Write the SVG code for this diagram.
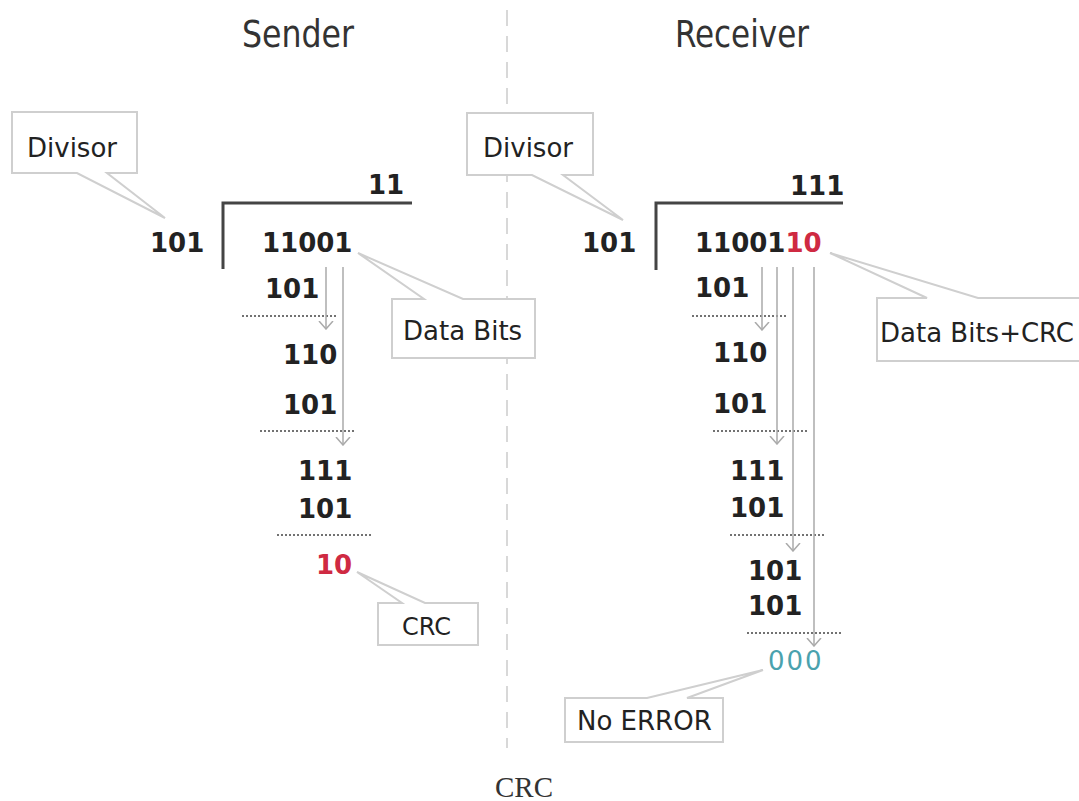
<svg xmlns="http://www.w3.org/2000/svg" width="1079" height="801" viewBox="0 0 1079 801">
<defs>
<style>
.title{font-family:"DejaVu Sans Condensed","DejaVu Sans",sans-serif;font-size:37px;fill:#333}
.num{font-family:"DejaVu Sans",Verdana,sans-serif;font-size:26px;font-weight:bold;fill:#222}
.red{fill:#cf2a42}
.teal{fill:#4aa2ae}
.lbl{font-family:"DejaVu Sans",Verdana,sans-serif;font-size:26px;fill:#222}
.box{fill:#fff;stroke:#cfcfcf;stroke-width:2}
.br{fill:none;stroke:#444;stroke-width:3}
.dot{stroke:#444;stroke-width:1.5;stroke-dasharray:2 2;fill:none}
.arr{stroke:#aaaaaa;stroke-width:1.5;fill:none;marker-end:url(#ah)}
.cap{font-family:"Liberation Serif","DejaVu Serif",serif;font-size:29px;fill:#333}
</style>
<marker id="ah" viewBox="0 0 9 16" refX="8" refY="8" markerWidth="9" markerHeight="16" markerUnits="userSpaceOnUse" orient="auto">
<path d="M0,1 L8,8 L0,15" fill="none" stroke="#aaaaaa" stroke-width="1.5"/>
</marker>
</defs>
<rect width="1079" height="801" fill="#fff"/>

<line x1="507" y1="10" x2="507" y2="748" stroke="#d8d8d8" stroke-width="2" stroke-dasharray="16 10"/>

<g id="title-sender"><text class="title" x="242" y="47" textLength="112" lengthAdjust="spacingAndGlyphs">Sender</text></g>
<g id="title-receiver"><text class="title" x="675" y="47" textLength="134" lengthAdjust="spacingAndGlyphs">Receiver</text></g>

<!-- Sender -->
<g id="s-divisor-callout">
<path class="box" d="M12,112 H137 V173 H107 L165,218 L77,173 H12 Z"/>
<text class="lbl" x="27" y="157">Divisor</text>
</g>
<g id="s-division">
<path class="br" d="M223,269 V203 H412"/>
<text class="num" x="368" y="194">11</text>
<text class="num" x="150" y="252">101</text>
<text class="num" x="262" y="252">11001</text>
<text class="num" x="265" y="298">101</text>
<line class="dot" x1="242" y1="316" x2="337" y2="316"/>
<text class="num" x="283" y="364">110</text>
<text class="num" x="283" y="414">101</text>
<line class="dot" x1="260" y1="431" x2="355" y2="431"/>
<text class="num" x="298" y="480">111</text>
<text class="num" x="298" y="518">101</text>
<line class="dot" x1="277" y1="535" x2="372" y2="535"/>
<text class="num red" x="316" y="574">10</text>
</g>
<g id="s-databits-callout">
<path class="box" d="M392,299 H424 L358,253 L463,299 H535 V358 H392 Z"/>
<text class="lbl" x="403" y="340">Data Bits</text>
</g>
<g id="s-crc-callout">
<path class="box" d="M378,603 H402 L357,572 L425,603 H478 V645 H378 Z"/>
<text class="lbl" x="402" y="635" style="font-size:24px">CRC</text>
</g>

<!-- Receiver -->
<g id="r-divisor-callout">
<path class="box" d="M467,113 H593 V175 H563 L623,220 L532,175 H467 Z"/>
<text class="lbl" x="483" y="157">Divisor</text>
</g>
<g id="r-division">
<path class="br" d="M656,270 V203 H843"/>
<text class="num" x="790" y="195">111</text>
<text class="num" x="582" y="252">101</text>
<text class="num" x="695" y="252">11001<tspan class="red">10</tspan></text>
<text class="num" x="695" y="297">101</text>
<line class="dot" x1="692" y1="316" x2="787" y2="316"/>
<text class="num" x="713" y="362">110</text>
<text class="num" x="713" y="413">101</text>
<line class="dot" x1="713" y1="431" x2="808" y2="431"/>
<text class="num" x="730" y="480">111</text>
<text class="num" x="730" y="517">101</text>
<line class="dot" x1="730" y1="535" x2="825" y2="535"/>
<text class="num" x="748" y="580">101</text>
<text class="num" x="748" y="615">101</text>
<line class="dot" x1="747" y1="633" x2="843" y2="633"/>
<text class="num teal" x="768" y="670" style="font-weight:normal;letter-spacing:2px">000</text>
</g>
<g id="r-databitscrc-callout">
<path class="box" d="M877,298 H927 L830,253 L978,298 H1082 V361 H877 Z"/>
<text class="lbl" x="880" y="342">Data Bits+CRC</text>
</g>
<g id="r-noerror-callout">
<path class="box" d="M565,698 H647 L763,670 L687,698 H723 V742 H565 Z"/>
<text class="lbl" x="577" y="730">No ERROR</text>
</g>

<g id="connectors">
<line class="arr" x1="326" y1="267" x2="326" y2="329"/>
<line class="arr" x1="343" y1="267" x2="343" y2="445"/>
<line class="arr" x1="762" y1="267" x2="762" y2="330"/>
<line class="arr" x1="777" y1="267" x2="777" y2="444"/>
<line class="arr" x1="793" y1="267" x2="793" y2="551"/>
<line class="arr" x1="814" y1="267" x2="814" y2="646"/>
</g>

<g id="caption"><text class="cap" x="495" y="797">CRC</text></g>
</svg>
